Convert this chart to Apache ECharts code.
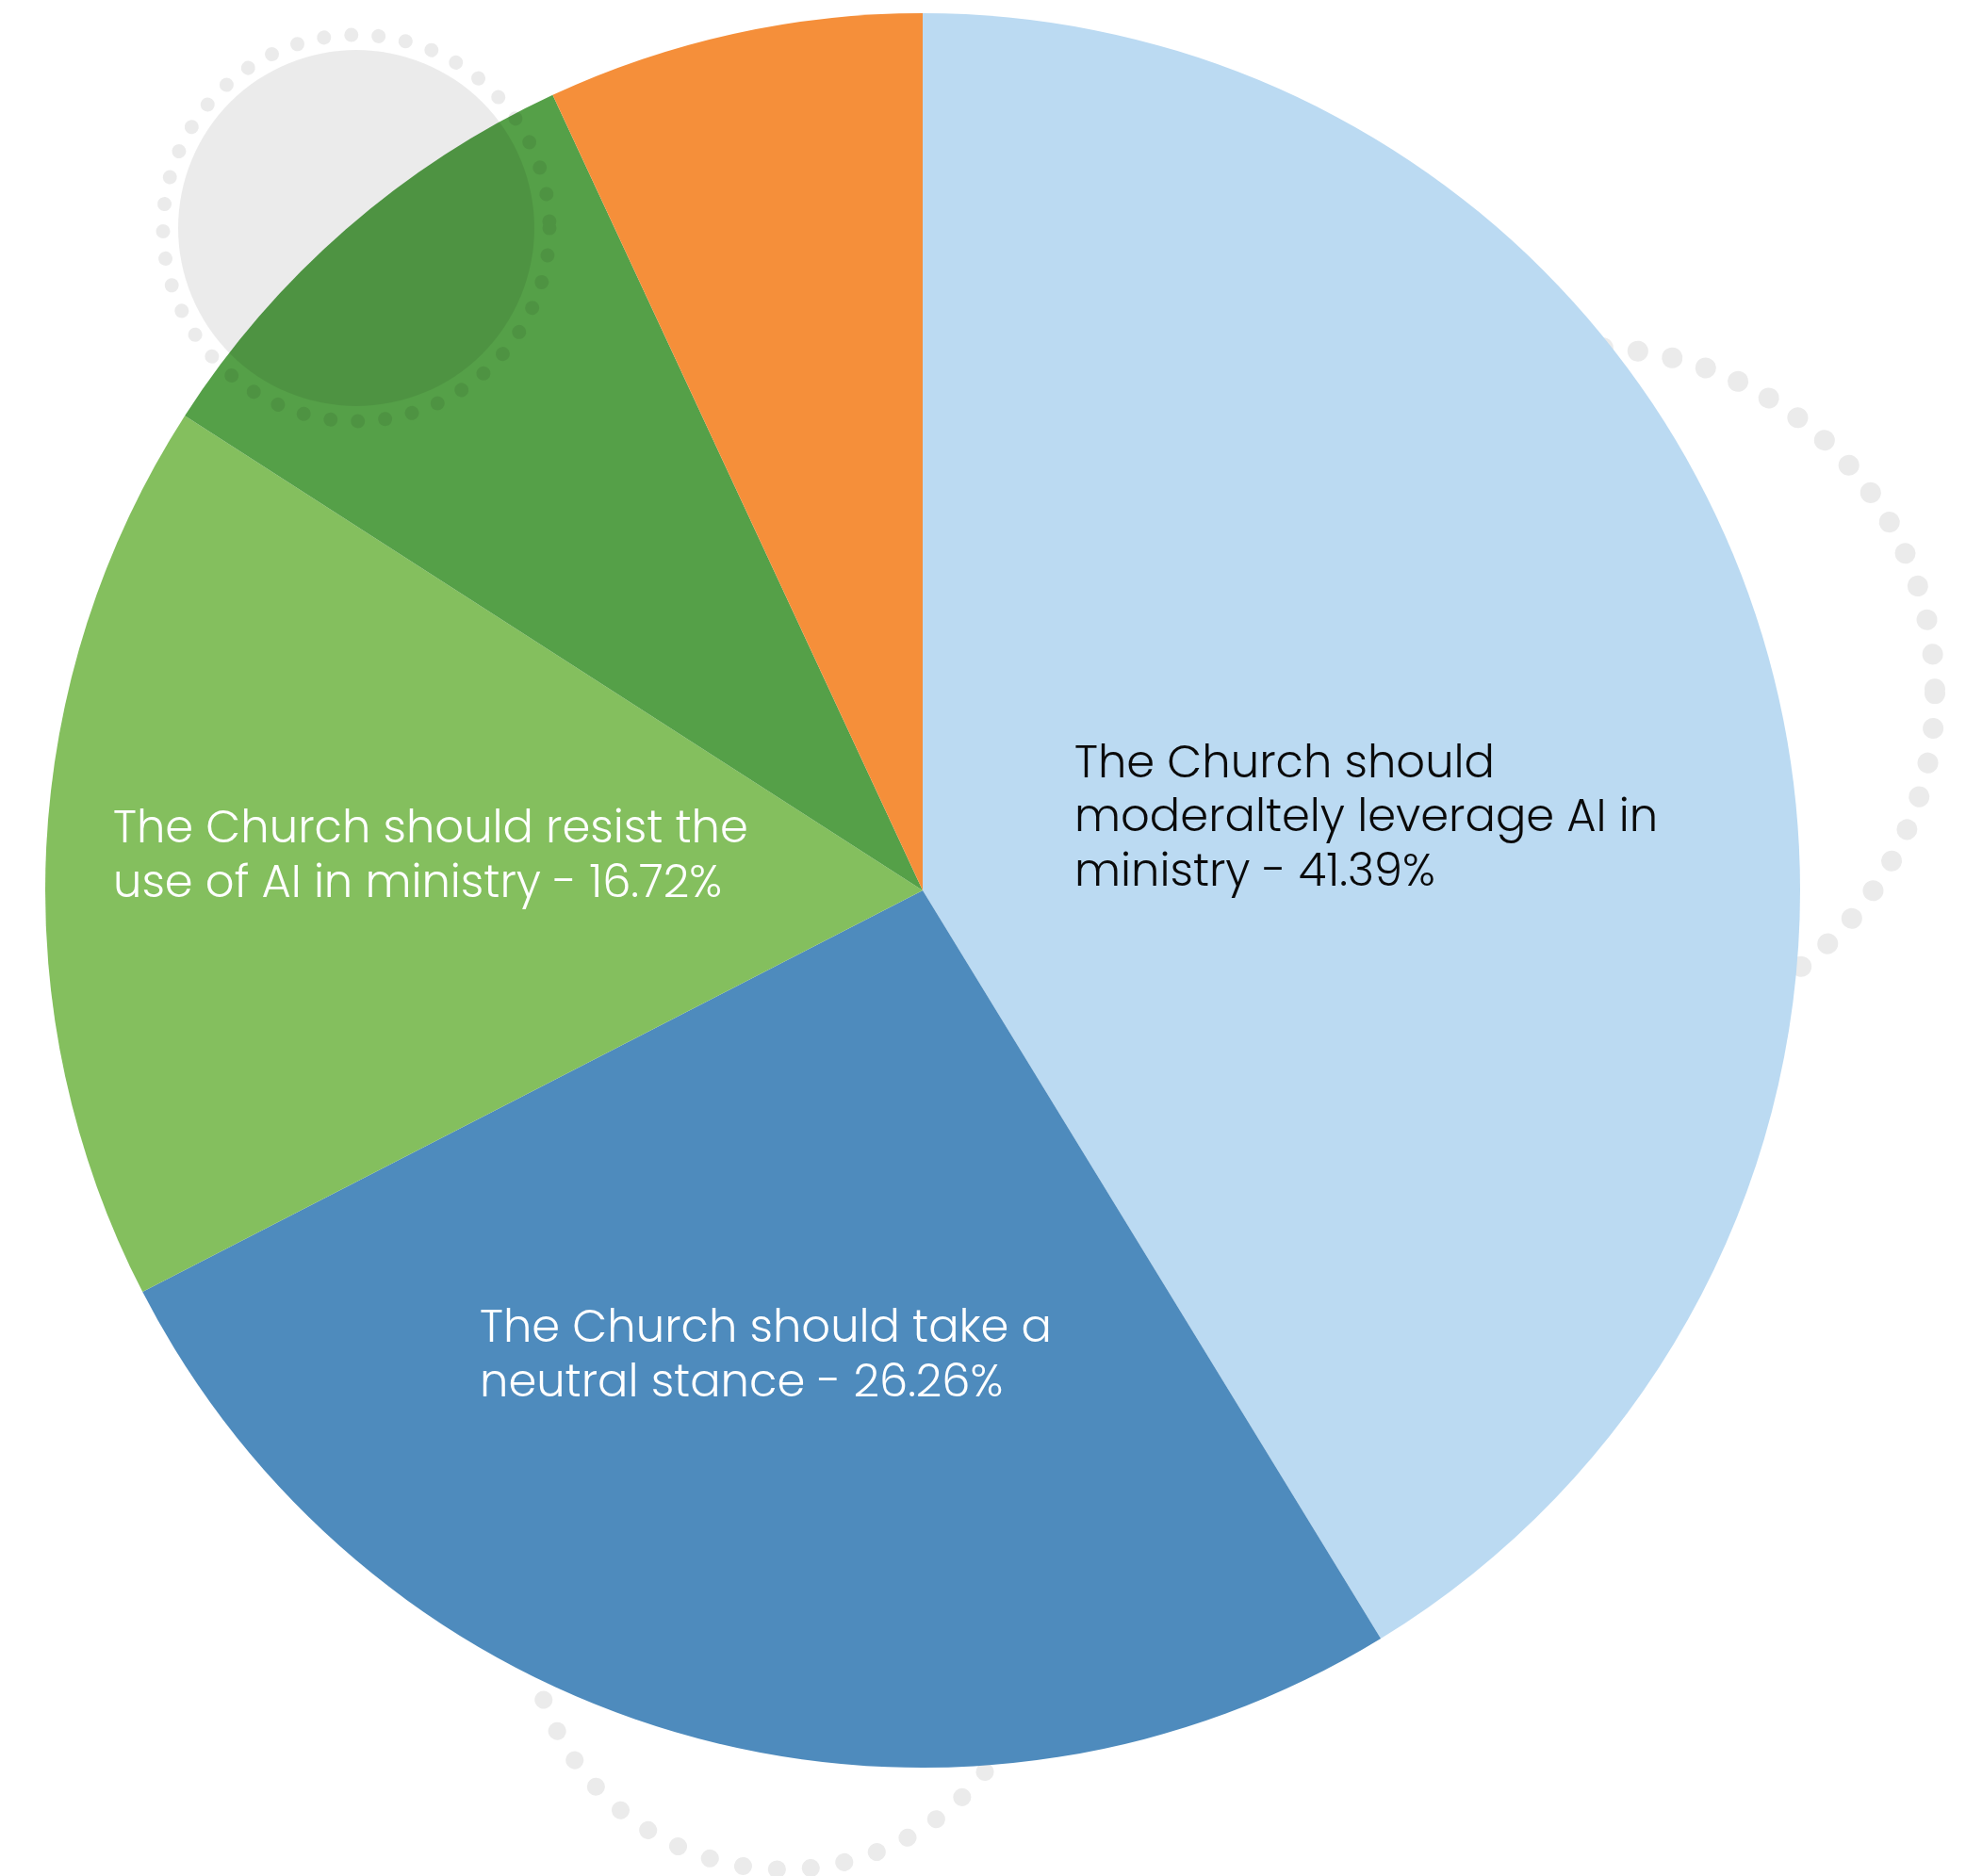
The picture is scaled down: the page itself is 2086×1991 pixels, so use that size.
<!DOCTYPE html>
<html>
<head>
<meta charset="utf-8">
<script src="https://cdn.jsdelivr.net/npm/echarts@6/dist/echarts.min.js"></script>
<style>
html,body{margin:0;padding:0;background:#fff;}
#chart{width:2086px;height:1991px;}
</style>
</head>
<body>
<div id="chart"></div>
<script>
// ---- data ----
const categories = [
  'The Church should moderaltely leverage AI in ministry',
  'The Church should take a neutral stance',
  'The Church should resist the use of AI in ministry',
  'Unlabeled slice (dark green)',
  'Unlabeled slice (orange)'
];
const values = [41.39, 26.26, 16.72, 9.0, 6.95];
const labelLines = [
  ['The Church should', 'moderaltely leverage AI in', 'ministry'],
  ['The Church should take a', 'neutral stance'],
  ['The Church should resist the', 'use of AI in ministry'],
  null,
  null
];

// ---- styles / layout ----
const colors = ['#BBDAF2', '#4E8BBD', '#84BF5E', '#55A048', '#F58F3A'];
const labelColors = ['#0a0a0a', '#ffffff', '#ffffff', '#ffffff', '#ffffff'];
const labelAnchors = [[1140, 870], [509, 1441], [120, 911], null, null];
const pieCenter = [979, 945];
const pieRadius = 931;

function dotRing(cx, cy, r, dot, gap, color, z) {
  return {
    type: 'circle', silent: true, z: z,
    shape: { cx: cx, cy: cy, r: r },
    style: { fill: 'none', stroke: color, lineWidth: dot, lineDash: [0.1, gap], lineCap: 'round' }
  };
}

const chart = echarts.init(document.getElementById('chart'), null, { renderer: 'canvas' });
const overlay = 'rgba(0,0,0,0.078)';

chart.setOption({
  animation: false,
  backgroundColor: '#ffffff',
  graphic: [
    dotRing(1686, 736, 367, 22, 37, '#EBEBEB', 0),
    dotRing(832, 1713, 271, 19, 36, '#EBEBEB', 0),
    { type: 'circle', silent: true, z: 50, shape: { cx: 378, cy: 242, r: 189 }, style: { fill: overlay } },
    dotRing(378, 242, 205, 15, 29, overlay, 50)
  ],
  series: [{
    type: 'pie',
    center: pieCenter,
    radius: [0, pieRadius],
    startAngle: 90,
    clockwise: true,
    silent: true,
    z: 2,
    emphasis: { disabled: true },
    labelLine: { show: false },
    label: {
      show: true,
      position: 'inside',
      fontFamily: 'Poppins, Inter, sans-serif',
      fontWeight: 300,
      fontSize: 48,
      lineHeight: 57.5,
      formatter: function (p) {
        const lines = labelLines[p.dataIndex];
        if (!lines) return '';
        const head = lines.slice(0, -1);
        const last = lines[lines.length - 1] + ' - ' + values[p.dataIndex].toFixed(2) + '%';
        return head.concat([last]).join('\n');
      }
    },
    labelLayout: function (params) {
      const a = labelAnchors[params.dataIndex];
      if (!a) return {};
      return { x: a[0], y: a[1], align: 'left', verticalAlign: 'middle' };
    },
    data: categories.map(function (name, i) {
      return {
        name: name,
        value: values[i],
        itemStyle: { color: colors[i] },
        label: { show: !!labelLines[i], color: labelColors[i] }
      };
    })
  }]
});
</script>
</body>
</html>
